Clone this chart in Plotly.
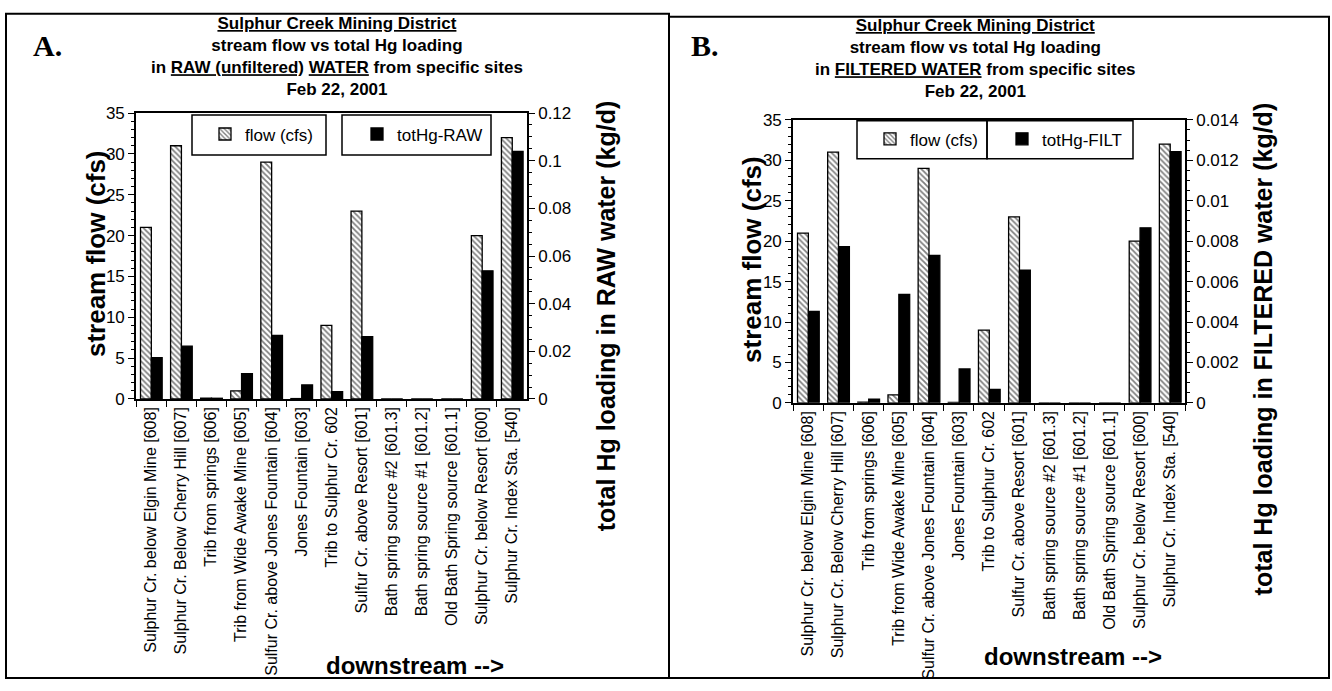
import plotly.graph_objects as go

# ---- data -------------------------------------------------------------
sites = [
    "Sulphur Cr. below Elgin Mine [608]",
    "Sulphur Cr. Below Cherry Hill [607]",
    "Trib from springs [606]",
    "Trib from Wide Awake Mine [605]",
    "Sulfur Cr. above Jones Fountain [604]",
    "Jones Fountain [603]",
    "Trib to Sulphur Cr. 602",
    "Sulfur Cr. above Resort [601]",
    "Bath spring source #2 [601.3]",
    "Bath spring source #1 [601.2]",
    "Old Bath Spring source [601.1]",
    "Sulphur Cr. below Resort [600]",
    "Sulphur Cr. Index Sta. [540]",
]

# stream flow (cfs), same for both panels
flow_cfs = [21, 31, 0.1, 1, 29, 0.05, 9, 23, 0, 0, 0, 20, 32]

# total Hg loading (kg/d)
hg_raw = [0.0173, 0.0222, 0.0003, 0.0106, 0.0267, 0.0059, 0.0031, 0.0262,
          0, 0, 0, 0.0538, 0.1039]
hg_filt = [0.00452, 0.00773, 0.00019, 0.00537, 0.0073, 0.00168, 0.00067,
           0.00657, 0, 0, 0, 0.00866, 0.01243]

flow_ticks = [0, 5, 10, 15, 20, 25, 30, 35]

# ---- helpers ----------------------------------------------------------
W, H = 1332, 691
FONT = "Liberation Sans, Arial, sans-serif"
SERIF = "Liberation Serif, Times New Roman, serif"


def px(x):
    return x / W


def py(y):
    return 1 - y / H


def ul(t):
    return f"<span style='text-decoration:underline'>{t}</span>"


hatch = dict(shape="\\", fgcolor="black", bgcolor="white", size=4, solidity=0.45)

fig = go.Figure()

# ---- panel A: raw water -----------------------------------------------
fig.add_trace(go.Bar(
    x=sites, y=flow_cfs, name="flow (cfs)", xaxis="x", yaxis="y",
    width=0.36, offset=-0.35,
    marker=dict(color="white", pattern=hatch, line=dict(color="black", width=1.3)),
    legend="legend",
))
fig.add_trace(go.Bar(
    x=sites, y=hg_raw, name="totHg-RAW", xaxis="x", yaxis="y2",
    width=0.36, offset=0.01,
    marker=dict(color="black", line=dict(color="black", width=1.3)),
    legend="legend2",
))

# ---- panel B: filtered water ------------------------------------------
fig.add_trace(go.Bar(
    x=sites, y=flow_cfs, name="flow (cfs)", xaxis="x2", yaxis="y3",
    width=0.36, offset=-0.35,
    marker=dict(color="white", pattern=hatch, line=dict(color="black", width=1.3)),
    legend="legend3",
))
fig.add_trace(go.Bar(
    x=sites, y=hg_filt, name="totHg-FILT", xaxis="x2", yaxis="y4",
    width=0.36, offset=0.01,
    marker=dict(color="black", line=dict(color="black", width=1.3)),
    legend="legend4",
))

xcommon = dict(
    type="category", tickson="boundaries", ticks="outside", ticklen=6,
    tickwidth=1.3, tickcolor="black", tickangle=-90,
    showline=True, linecolor="black", linewidth=1.6, mirror=True,
    showgrid=False, zeroline=False,
    tickfont=dict(family=FONT, size=16, color="black"),
)
yleft = dict(
    range=[0, 35], tickvals=flow_ticks, ticks="outside", ticklen=6,
    tickwidth=1.3, tickcolor="black",
    minor=dict(dtick=1, ticks="outside", ticklen=3, tickcolor="black"),
    showline=True, linecolor="black", linewidth=1.6,
    showgrid=False, zeroline=False,
    tickfont=dict(family=FONT, size=17, color="black"),
)
yright = dict(
    side="right", ticks="outside", ticklen=6, tickwidth=1.3, tickcolor="black",
    showline=True, linecolor="black", linewidth=1.6,
    showgrid=False, zeroline=False,
    tickfont=dict(family=FONT, size=17, color="black"),
)

A_x = [px(136), px(527)]
A_y = [py(401), py(107)]
B_x = [px(793), px(1185)]
B_y = [py(405), py(114)]

fig.update_layout(
    width=W, height=H, margin=dict(l=0, r=0, t=0, b=0),
    paper_bgcolor="white", plot_bgcolor="white",
    barmode="overlay", showlegend=True,
    font=dict(family=FONT, color="black"),
    xaxis=dict(domain=A_x, anchor="y", **xcommon),
    yaxis=dict(domain=A_y, anchor="x", **yleft),
    yaxis2=dict(overlaying="y", anchor="x", range=[0, 0.12], dtick=0.02,
                minor=dict(dtick=0.005, ticks="outside", ticklen=3, tickcolor="black"),
                **yright),
    xaxis2=dict(domain=B_x, anchor="y3", **xcommon),
    yaxis3=dict(domain=B_y, anchor="x2", **yleft),
    yaxis4=dict(overlaying="y3", anchor="x2", range=[0, 0.014], dtick=0.002,
                minor=dict(dtick=0.0005, ticks="outside", ticklen=3, tickcolor="black"),
                **yright),
)

# legends, each inside its own frame
leg = dict(bgcolor="rgba(0,0,0,0)", borderwidth=0, xanchor="left",
           yanchor="middle", font=dict(family=FONT, size=17, color="black"),
           itemclick=False, itemdoubleclick=False)
fig.update_layout(
    legend=dict(x=px(205), y=py(129), **leg),
    legend2=dict(x=px(357), y=py(129), **leg),
    legend3=dict(x=px(870), y=py(134), **leg),
    legend4=dict(x=px(1002), y=py(134), **leg),
)

shapes = []


def rect(x0, y0, x1, y1, w=1.5):
    shapes.append(dict(type="rect", xref="paper", yref="paper",
                       x0=px(x0), x1=px(x1), y0=py(y1), y1=py(y0),
                       line=dict(color="black", width=w), fillcolor="rgba(0,0,0,0)"))


# legend frames
rect(192, 109, 326, 150)
rect(342, 109, 491, 150)
rect(857, 115, 987, 154)
rect(987, 115, 1133, 154)
# panel frames
rect(6, 5, 669, 688, 2)
rect(669, 8, 1329, 688, 2)
fig.update_layout(shapes=shapes)

ann = []


def text(x, y, s, size, bold=False, angle=0, family=FONT):
    ann.append(dict(xref="paper", yref="paper", x=px(x), y=py(y),
                    text=(f"<b>{s}</b>" if bold else s),
                    showarrow=False, xanchor="center", yanchor="middle", textangle=angle,
                    font=dict(family=family, size=size, color="black")))


# panel titles (one block of four lines each)
title_a = "<br>".join([
    ul("Sulphur Creek Mining District"),
    "stream flow vs total Hg loading",
    "in " + ul("RAW (unfiltered)") + " " + ul("WATER") + " from specific sites",
    "Feb 22, 2001",
])
title_b = "<br>".join([
    ul("Sulphur Creek Mining District"),
    "stream flow vs total Hg loading",
    "in " + ul("FILTERED WATER") + " from specific sites",
    "Feb 22, 2001",
])
text(337, 49, title_a, 17, True)
text(975, 51, title_b, 17, True)

# panel letters
text(47, 38, "A.", 30, True, family=SERIF)
text(705, 38, "B.", 30, True, family=SERIF)

# axis titles
text(96, 252, "stream flow (cfs)", 26, True, -90)
text(606, 316, "total Hg loading in RAW water (kg/d)", 25, True, -90)
text(752, 258, "stream flow (cfs)", 26, True, -90)
text(1263, 350, "total Hg loading in FILTERED water (kg/d)", 25, True, -90)

text(415, 675, "downstream -->", 24, True)
text(1073, 666, "downstream -->", 24, True)

fig.update_layout(annotations=ann)

fig.write_html("out.html")
